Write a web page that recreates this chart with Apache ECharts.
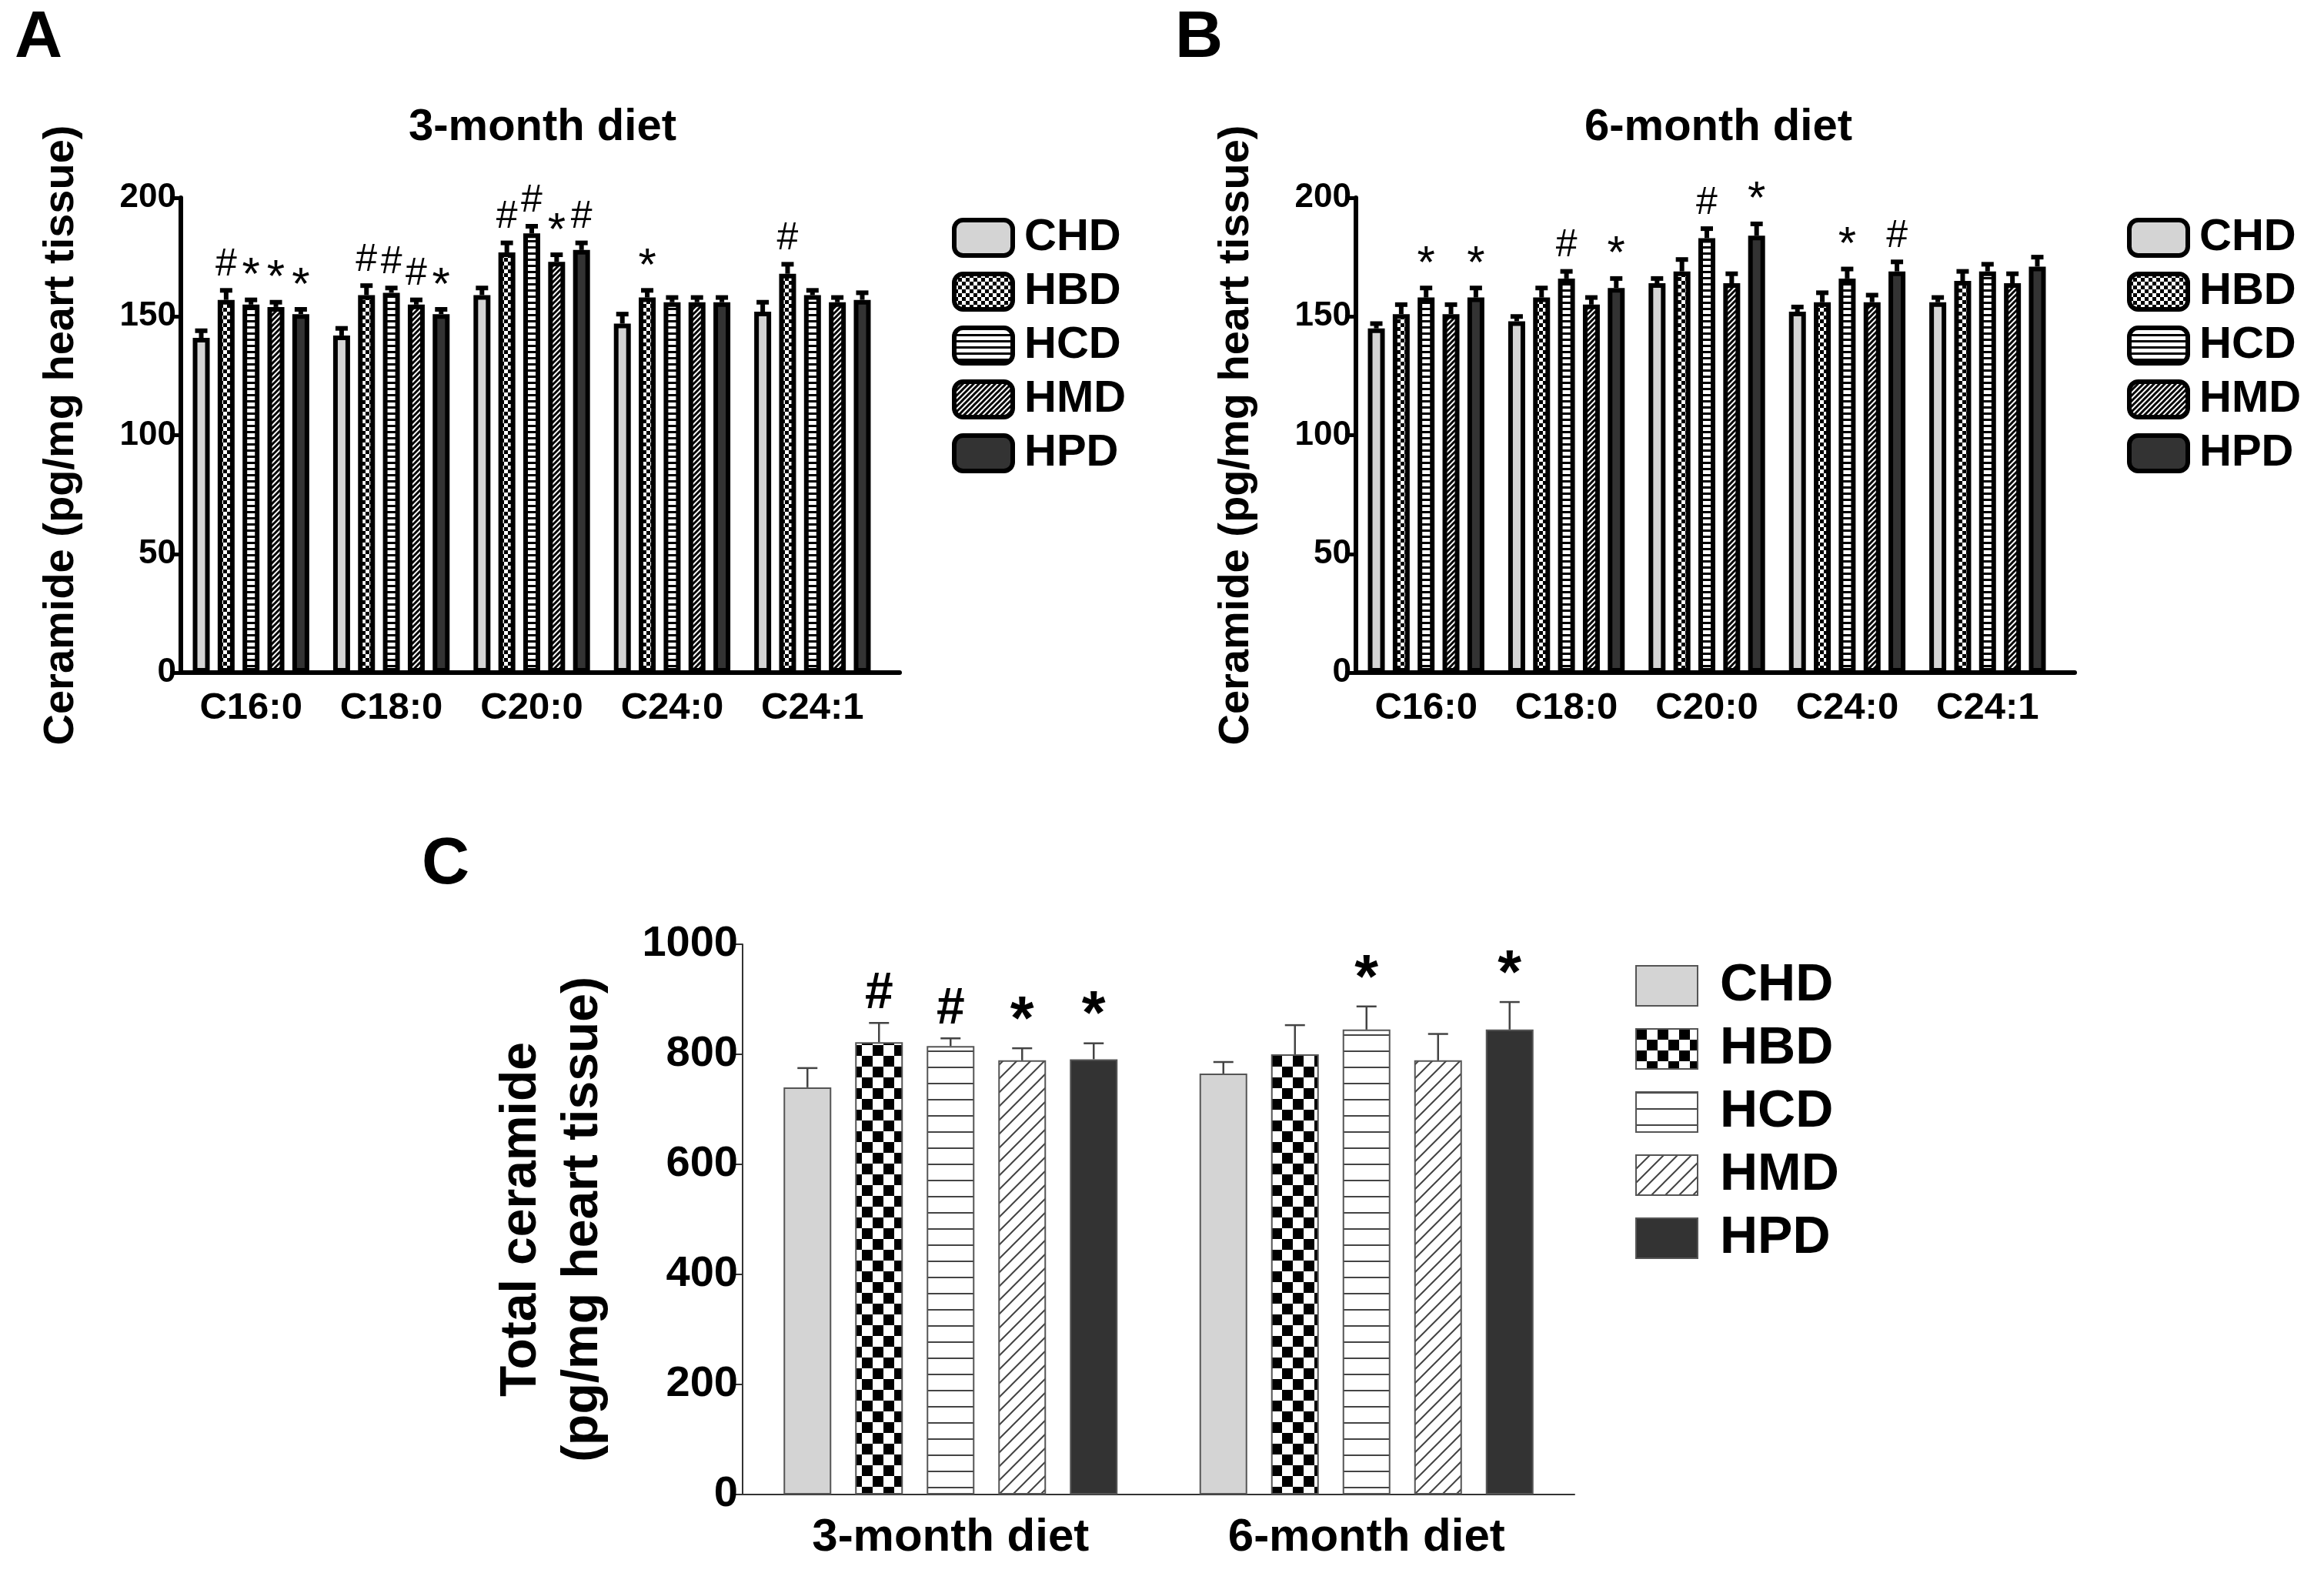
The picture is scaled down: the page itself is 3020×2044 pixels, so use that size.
<!DOCTYPE html>
<html>
<head>
<meta charset="utf-8">
<script src="https://cdn.jsdelivr.net/npm/echarts@6/dist/echarts.min.js"></script>
<style>
  html, body { margin: 0; padding: 0; background: #fff; }
  #chart { width: 3020px; height: 2044px; }
</style>
</head>
<body>
<div id="chart"></div>
<script>
// categories / groups
const lipids = ['C16:0', 'C18:0', 'C20:0', 'C24:0', 'C24:1'];
const diets = ['CHD', 'HBD', 'HCD', 'HMD', 'HPD'];
const periods = ['3-month diet', '6-month diet'];

// panel A (3-month), one row per diet, columns = lipids
const meanA = [
  [141, 142, 159, 147, 152],
  [157, 159, 177, 158, 168],
  [155, 160, 185, 156, 159],
  [154, 155, 173, 156, 156],
  [151, 151, 178, 156, 157]
];
const errA = [
  [3, 3, 3, 4, 4],
  [4, 4, 4, 3, 4],
  [2, 2, 3, 2, 2],
  [2, 2, 3, 2, 2],
  [2, 2, 3, 2, 3]
];
const markA = [
  ['', '', '', '', ''],
  ['#', '#', '#', '*', '#'],
  ['*', '#', '#', '', ''],
  ['*', '#', '*', '', ''],
  ['*', '*', '#', '', '']
];

// panel B (6-month)
const meanB = [
  [145, 148, 164, 152, 156],
  [151, 158, 169, 156, 165],
  [158, 166, 183, 166, 169],
  [151, 155, 164, 156, 164],
  [158, 162, 184, 169, 171]
];
const errB = [
  [2, 2, 2, 2, 2],
  [4, 4, 5, 4, 4],
  [4, 3, 4, 4, 3],
  [4, 3, 4, 3, 4],
  [4, 4, 5, 4, 4]
];
const markB = [
  ['', '', '', '', ''],
  ['', '', '', '', ''],
  ['*', '#', '#', '*', ''],
  ['', '', '', '', ''],
  ['*', '*', '*', '#', '']
];

// panel C (total), columns = periods
const meanC = [
  [740, 765],
  [822, 800],
  [815, 845],
  [789, 789],
  [791, 845]
];
const errC = [
  [35, 21],
  [35, 53],
  [14, 42],
  [22, 48],
  [29, 50]
];
const markC = [
  ['', ''],
  ['#', ''],
  ['#', '*'],
  ['*', ''],
  ['*', '*']
];

const FONT = '"Liberation Sans", Arial, sans-serif';

function canvasOf(w, h, draw) {
  const c = document.createElement('canvas');
  c.width = w; c.height = h;
  draw(c.getContext('2d'), w, h);
  return { image: c, repeat: 'repeat' };
}

// fill patterns, s = scale of the texture
function fills(s, lineCol, lw) {
  return [
    '#d4d4d4',
    canvasOf(2 * s, 2 * s, (g, w, h) => {
      g.fillStyle = '#fff'; g.fillRect(0, 0, w, h);
      g.fillStyle = '#000'; g.fillRect(0, 0, s, s); g.fillRect(s, s, s, s);
    }),
    canvasOf(8, Math.round(1.5 * s), (g, w, h) => {
      g.fillStyle = '#fff'; g.fillRect(0, 0, w, h);
      g.fillStyle = lineCol; g.fillRect(0, 0, w, lw);
    }),
    canvasOf(Math.round(1.3 * s), Math.round(1.3 * s), (g, w, h) => {
      g.fillStyle = '#fff'; g.fillRect(0, 0, w, h);
      g.strokeStyle = lineCol; g.lineWidth = lw;
      g.beginPath();
      g.moveTo(-1, h + 1); g.lineTo(w + 1, -1);
      g.moveTo(-w / 2, h / 2); g.lineTo(w / 2, -h / 2);
      g.moveTo(w / 2, h * 1.5); g.lineTo(w * 1.5, h / 2);
      g.stroke();
    }),
    '#333333'
  ];
}

const fillSmall = fills(5, '#000', 3);
const fillBig = fills(14, '#444', 2);

const gridA = { left: 235, top: 257, width: 912, height: 617 };
const gridB = { left: 1762, top: 257, width: 912, height: 617 };
const gridC = { left: 965, top: 1227, width: 1081, height: 715 };

const small = { barWidth: 22, gap: 0.47, border: 6, errW: 6, cap: 8, markSize: 50, markWeight: 'normal', errCol: '#000' };
const big = { barWidth: 62, gap: 0.5, border: 2, errW: 2.5, cap: 13, markSize: 66, markWeight: 'bold', errCol: '#444' };

function barSeries(gi, means, cfg, pal) {
  return means.map((row, i) => ({
    name: diets[i],
    type: 'bar',
    xAxisIndex: gi, yAxisIndex: gi,
    data: row,
    barWidth: cfg.barWidth,
    barGap: (cfg.gap * 100) + '%',
    silent: true,
    animation: false,
    itemStyle: { color: pal[i], borderColor: cfg.border > 3 ? '#000' : '#555', borderWidth: cfg.border }
  }));
}

function errSeries(gi, means, errs, marks, cfg) {
  const n = means.length;
  return means.map((row, i) => ({
    type: 'custom',
    xAxisIndex: gi, yAxisIndex: gi,
    silent: true, animation: false, z: 5,
    data: row.map((v, k) => [k, v, errs[i][k]]),
    renderItem: (params, api) => {
      const k = api.value(0), v = api.value(1), e = api.value(2);
      const p0 = api.coord([k, v]);
      const p1 = api.coord([k, v + e]);
      const w = cfg.barWidth, g = w * cfg.gap;
      const total = n * w + (n - 1) * g;
      const x = p0[0] - total / 2 + i * (w + g) + w / 2;
      const ls = { stroke: cfg.errCol, lineWidth: cfg.errW, lineCap: 'butt' };
      const kids = [
        { type: 'line', shape: { x1: x, y1: p0[1], x2: x, y2: p1[1] }, style: ls },
        { type: 'line', shape: { x1: x - cfg.cap, y1: p1[1], x2: x + cfg.cap, y2: p1[1] }, style: ls }
      ];
      const m = marks[i][params.dataIndex];
      if (m) {
        const star = m === '*';
        kids.push({
          type: 'text',
          style: {
            text: m, x: x, y: p1[1] - (star ? -cfg.markSize * 0.12 : 2) - cfg.errW,
            textAlign: 'center', textVerticalAlign: 'bottom',
            fontSize: star ? cfg.markSize * 1.2 : cfg.markSize,
            fontWeight: cfg.markWeight, fontFamily: FONT, fill: '#000'
          }
        });
      }
      return { type: 'group', children: kids };
    }
  }));
}

function catAxis(gi, data, thick, fs, margin) {
  return {
    type: 'category', gridIndex: gi, data: data,
    axisLine: { lineStyle: { color: thick ? '#000' : '#333', width: thick ? 6 : 2 } },
    axisTick: { alignWithLabel: true, length: thick ? 14 : 18, lineStyle: { color: thick ? '#000' : '#333', width: thick ? 5 : 2 } },
    axisLabel: { color: '#000', fontSize: fs, fontWeight: 'bold', fontFamily: FONT, margin: margin }
  };
}

function valAxis(gi, max, step, thick, fs, name, nameFs, nameGap) {
  return {
    type: 'value', gridIndex: gi, min: 0, max: max, interval: step,
    splitLine: { show: false },
    axisLine: { show: true, lineStyle: { color: thick ? '#000' : '#333', width: thick ? 6 : 2 } },
    axisTick: { show: true, length: 14, lineStyle: { color: thick ? '#000' : '#333', width: thick ? 5 : 2 } },
    axisLabel: { color: '#000', fontSize: fs, fontWeight: 'bold', fontFamily: FONT, margin: 6, formatter: (v) => String(v) },
    name: name, nameLocation: 'middle', nameGap: nameGap,
    nameTextStyle: { color: '#000', fontSize: nameFs, fontWeight: 'bold', fontFamily: FONT, lineHeight: nameFs * 1.2 }
  };
}

function legendOf(left, top, pal, boxW, boxH, border, fs, gap, pad, round) {
  return {
    orient: 'vertical', left: left, top: top,
    icon: round ? 'roundRect' : 'rect',
    itemWidth: boxW, itemHeight: boxH, itemGap: gap,
    selectedMode: false,
    textStyle: { fontSize: fs, fontWeight: 'bold', fontFamily: FONT, color: '#000', lineHeight: boxH, padding: [0, 0, 0, pad] },
    data: diets.map((d, i) => ({
      name: d,
      itemStyle: { color: pal[i], borderColor: border > 3 ? '#000' : '#555', borderWidth: border }
    }))
  };
}

// GraphPad-style x axis that runs a little past the last category
function axisTail(grid) {
  const y = grid.top + grid.height;
  const x = grid.left + grid.width;
  return {
    type: 'line', silent: true, z: 3,
    shape: { x1: x - 2, y1: y, x2: x + 22, y2: y },
    style: { stroke: '#000', lineWidth: 6, lineCap: 'round' }
  };
}

const chart = echarts.init(document.getElementById('chart'), null, { renderer: 'canvas' });

const yName = 'Ceramide (pg/mg heart tissue)';

chart.setOption({
  backgroundColor: '#fff',
  animation: false,
  title: [
    { text: 'A', left: 14, top: 2, textStyle: { fontSize: 86, fontWeight: 'bold', fontFamily: FONT, color: '#000' } },
    { text: 'B', left: 1522, top: 2, textStyle: { fontSize: 86, fontWeight: 'bold', fontFamily: FONT, color: '#000' } },
    { text: 'C', left: 543, top: 1076, textStyle: { fontSize: 86, fontWeight: 'bold', fontFamily: FONT, color: '#000' } },
    { text: periods[0], left: 700, top: 132, textAlign: 'center', textStyle: { fontSize: 58, fontWeight: 'bold', fontFamily: FONT, color: '#000' } },
    { text: periods[1], left: 2228, top: 132, textAlign: 'center', textStyle: { fontSize: 58, fontWeight: 'bold', fontFamily: FONT, color: '#000' } }
  ],
  graphic: [axisTail(gridA), axisTail(gridB)],
  grid: [gridA, gridB, gridC],
  xAxis: [
    catAxis(0, lipids, true, 49, 22),
    catAxis(1, lipids, true, 49, 22),
    catAxis(2, periods, false, 60, 26)
  ],
  yAxis: [
    valAxis(0, 200, 50, true, 44, yName, 56, 122),
    valAxis(1, 200, 50, true, 44, yName, 56, 122),
    valAxis(2, 1000, 200, false, 56, 'Total ceramide\n(pg/mg heart tissue)', 66, 168)
  ],
  legend: [
    legendOf(1232, 275, fillSmall, 76, 46, 6, 58, 12, 10, true),
    legendOf(2759, 275, fillSmall, 76, 46, 6, 58, 12, 10, true),
    legendOf(2120, 1242, fillBig, 80, 52, 2, 68, 14, 24, false)
  ],
  series: [].concat(
    barSeries(0, meanA, small, fillSmall),
    barSeries(1, meanB, small, fillSmall),
    barSeries(2, meanC, big, fillBig),
    errSeries(0, meanA, errA, markA, small),
    errSeries(1, meanB, errB, markB, small),
    errSeries(2, meanC, errC, markC, big)
  )
});
</script>
</body>
</html>
